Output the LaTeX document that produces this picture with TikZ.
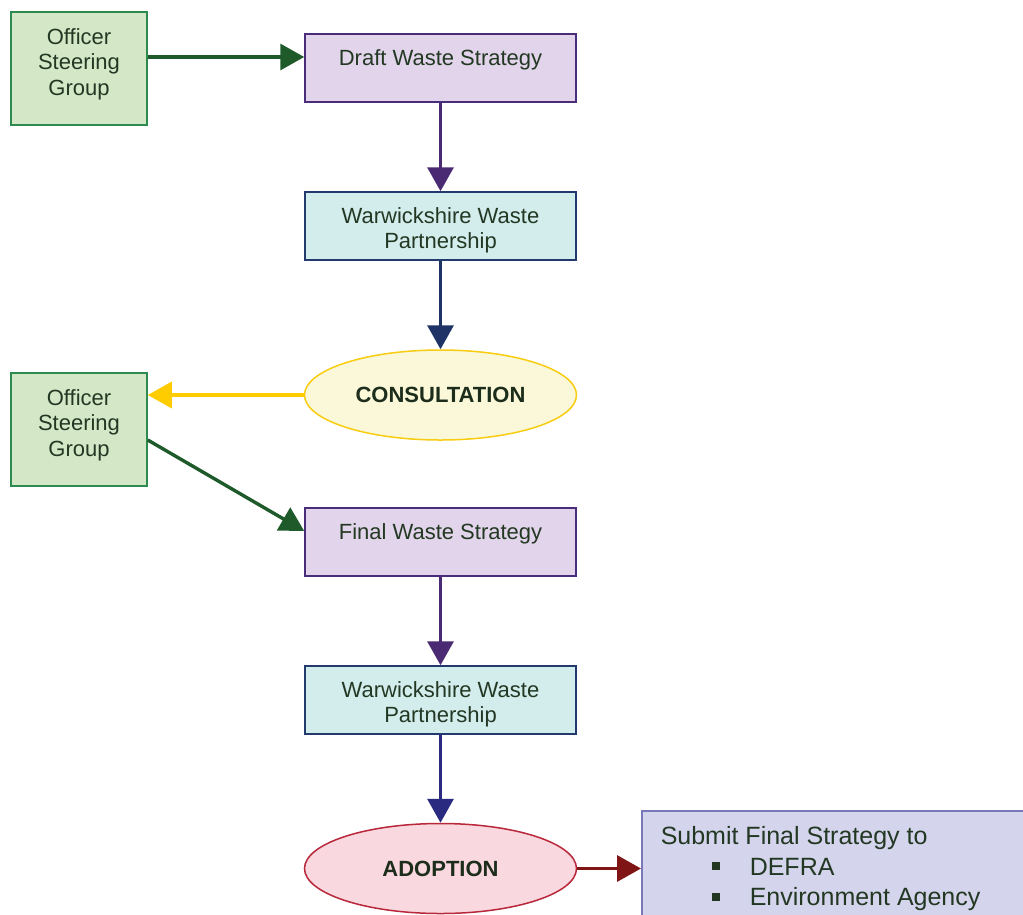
\documentclass[tikz,border=0pt]{standalone}
\usepackage{fontspec}
\setmainfont{Liberation Sans}
\usetikzlibrary{shapes.geometric, arrows.meta}

\definecolor{txtgreen}{HTML}{233823}
\definecolor{osgfill}{HTML}{D4E8C8}
\definecolor{osgline}{HTML}{2E8B50}
\definecolor{stratfill}{HTML}{E2D4EA}
\definecolor{stratline}{HTML}{4A2D7A}
\definecolor{wwpfill}{HTML}{D3ECEC}
\definecolor{wwpline}{HTML}{223A6E}
\definecolor{consfill}{HTML}{FAF8D8}
\definecolor{consline}{HTML}{F8CC10}
\definecolor{adoptfill}{HTML}{FAD8DF}
\definecolor{adoptline}{HTML}{B8283A}
\definecolor{submitfill}{HTML}{D4D4EC}
\definecolor{submitline}{HTML}{7878B8}
\definecolor{arrgreen}{HTML}{1F5A2A}
\definecolor{arrpurple}{HTML}{4A2A72}
\definecolor{arrnavy}{HTML}{1F3366}
\definecolor{arryellow}{HTML}{FFCC00}
\definecolor{arrblue}{HTML}{2A2A80}
\definecolor{arrred}{HTML}{7F1515}

\newcommand{\stack}[1]{\begin{tabular}[t]{@{}c@{}}#1\end{tabular}}
\newcommand{\sqbullet}{\hspace*{51pt}\raisebox{5pt}{\rule{8pt}{8pt}}\hspace{30pt}}

\begin{document}
\begin{tikzpicture}[
    x=1pt, y=-1pt,
    font=\fontsize{22}{25.5}\selectfont,
    every node/.style={text=txtgreen, inner sep=0pt},
    box/.style={draw, line width=1.5pt, minimum width=271pt, text height=31pt, text depth=37pt},
    officer/.style={box, draw=osgline, fill=osgfill, minimum width=136pt, text height=32pt, text depth=81pt},
    strategy/.style={box, draw=stratline, fill=stratfill},
    partner/.style={box, draw=wwpline, fill=wwpfill},
    stage/.style={ellipse, line width=1.5pt, minimum width=272pt, minimum height=90pt, font=\fontsize{22}{25.5}\selectfont\bfseries, text=txtgreen!80!black},
    submit/.style={draw=submitline, fill=submitfill, line width=1.5pt, anchor=north west, inner xsep=19pt, text height=34pt, text depth=100pt, font=\fontsize{25}{30.5}\selectfont},
    link/.style={line width=3.4pt, -{Triangle[length=24pt,width=26pt]}},
    ]
    \clip (0,0) rectangle (1023,914);

    % boxes
    \node [officer] (osg1) at (79,68.5) {\stack{Officer\\Steering\\Group}};
    \node [strategy] (draft) at (440.5,68) {Draft Waste Strategy};
    \node [partner] (wwp1) at (440.5,226) {\stack{Warwickshire Waste\\Partnership}};
    \node [stage, draw=consline, fill=consfill] (cons) at (440.5,395) {CONSULTATION};
    \node [officer] (osg2) at (79,429.5) {\stack{Officer\\Steering\\Group}};
    \node [strategy] (final) at (440.5,542) {Final Waste Strategy};
    \node [partner] (wwp2) at (440.5,700) {\stack{Warwickshire Waste\\Partnership}};
    \node [stage, draw=adoptline, fill=adoptfill] (adopt) at (440.5,868.5) {ADOPTION};
    \node [submit] (submit) at (641,810) {\makebox[420pt][l]{\begin{tabular}[t]{@{}l@{}}Submit Final Strategy to\\
        \sqbullet DEFRA\\
        \sqbullet Environment Agency\end{tabular}}};

    % arrows
    \draw [link, arrgreen] ([yshift=11.5pt]osg1.east) -- ([yshift=11.5pt]osg1.east -| draft.west);
    \draw [link, arrpurple] (draft.south) -- (wwp1.north);
    \draw [link, arrnavy] (wwp1.south) -- (cons.north);
    \draw [link, arryellow] (cons.west) -- (cons.west -| osg2.east);
    \draw [link, arrgreen] ([yshift=-10.5pt]osg2.east) -- ([yshift=11pt]final.west);
    \draw [link, arrpurple] (final.south) -- (wwp2.north);
    \draw [link, arrblue] (wwp2.south) -- (adopt.north);
    \draw [link, arrred] (adopt.east) -- (adopt.east -| submit.west);
\end{tikzpicture}
\end{document}
